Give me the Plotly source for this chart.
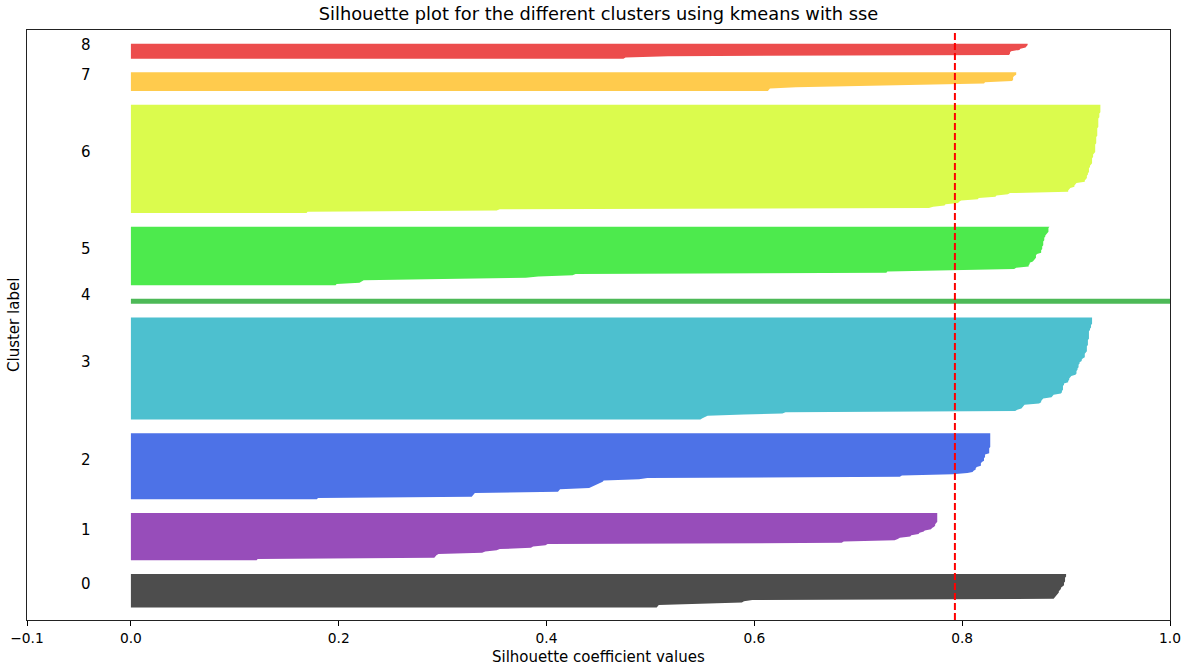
import plotly.graph_objects as go

# Silhouette coefficients per cluster, sorted ascending (one value per sample)
cluster_0 = [0.506, 0.507, 0.508, 0.548, 0.588, 0.590, 0.598, 0.888, 0.889, 0.890,
             0.891, 0.892, 0.893, 0.893, 0.894, 0.895, 0.895, 0.897, 0.898, 0.898,
             0.898, 0.899, 0.899, 0.899, 0.899, 0.900, 0.900, 0.900]
cluster_1 = [0.121, 0.122, 0.292, 0.293, 0.294, 0.296, 0.338, 0.341, 0.352, 0.355,
             0.385, 0.387, 0.399, 0.401, 0.684, 0.686, 0.735, 0.738, 0.740, 0.750,
             0.751, 0.758, 0.759, 0.763, 0.764, 0.770, 0.771, 0.773, 0.774, 0.774,
             0.775, 0.776, 0.776, 0.776, 0.776, 0.776, 0.776, 0.776, 0.776]
cluster_2 = [0.179, 0.180, 0.328, 0.329, 0.330, 0.331, 0.411, 0.412, 0.413, 0.441,
             0.444, 0.446, 0.449, 0.452, 0.454, 0.455, 0.489, 0.497, 0.740, 0.742,
             0.791, 0.805, 0.810, 0.811, 0.813, 0.813, 0.814, 0.818, 0.818, 0.818,
             0.819, 0.821, 0.821, 0.821, 0.822, 0.822, 0.822, 0.826, 0.826, 0.826,
             0.826, 0.826, 0.827, 0.827, 0.827, 0.827, 0.827, 0.827, 0.827, 0.827,
             0.827, 0.827, 0.827, 0.827]
cluster_3 = [0.548, 0.550, 0.553, 0.555, 0.590, 0.627, 0.630, 0.851, 0.853, 0.857,
             0.858, 0.859, 0.860, 0.874, 0.876, 0.876, 0.877, 0.878, 0.886, 0.887,
             0.888, 0.895, 0.896, 0.896, 0.897, 0.897, 0.897, 0.897, 0.898, 0.898,
             0.902, 0.902, 0.903, 0.903, 0.904, 0.905, 0.909, 0.910, 0.910, 0.910,
             0.911, 0.911, 0.912, 0.912, 0.912, 0.913, 0.913, 0.915, 0.915, 0.916,
             0.918, 0.918, 0.918, 0.918, 0.919, 0.920, 0.920, 0.920, 0.920, 0.920,
             0.921, 0.921, 0.921, 0.921, 0.921, 0.922, 0.922, 0.922, 0.922, 0.922,
             0.922, 0.922, 0.923, 0.923, 0.924, 0.924, 0.924, 0.925, 0.925, 0.925,
             0.925, 0.925, 0.925]
cluster_4 = [1.0, 1.0, 1.0, 1.0, 1.0]
cluster_5 = [0.197, 0.198, 0.220, 0.222, 0.224, 0.300, 0.380, 0.392, 0.425, 0.428,
             0.727, 0.728, 0.790, 0.850, 0.852, 0.864, 0.864, 0.865, 0.865, 0.868,
             0.869, 0.870, 0.871, 0.871, 0.871, 0.872, 0.876, 0.876, 0.876, 0.877,
             0.877, 0.877, 0.878, 0.878, 0.878, 0.878, 0.879, 0.879, 0.879, 0.880,
             0.880, 0.881, 0.882, 0.883, 0.883, 0.883, 0.883, 0.884]
cluster_6 = [0.169, 0.170, 0.352, 0.355, 0.768, 0.772, 0.783, 0.784, 0.796, 0.797,
             0.799, 0.815, 0.816, 0.832, 0.833, 0.844, 0.846, 0.902, 0.902, 0.903,
             0.904, 0.908, 0.908, 0.909, 0.910, 0.918, 0.918, 0.919, 0.920, 0.920,
             0.920, 0.921, 0.921, 0.922, 0.922, 0.922, 0.922, 0.923, 0.923, 0.924,
             0.925, 0.925, 0.925, 0.925, 0.925, 0.926, 0.926, 0.926, 0.927, 0.928,
             0.928, 0.928, 0.928, 0.928, 0.928, 0.928, 0.929, 0.929, 0.929, 0.929,
             0.929, 0.929, 0.930, 0.930, 0.930, 0.930, 0.930, 0.930, 0.930, 0.931,
             0.931, 0.931, 0.931, 0.931, 0.931, 0.931, 0.931, 0.932, 0.932, 0.932,
             0.932, 0.933, 0.933, 0.933, 0.933, 0.933, 0.933, 0.933]
cluster_7 = [0.613, 0.614, 0.615, 0.640, 0.700, 0.760, 0.821, 0.822, 0.848, 0.849,
             0.849, 0.849, 0.850, 0.852, 0.852, 0.852]
cluster_8 = [0.474, 0.476, 0.517, 0.845, 0.846, 0.846, 0.847, 0.855, 0.856, 0.861,
             0.862, 0.863, 0.863]

clusters = [cluster_0, cluster_1, cluster_2, cluster_3, cluster_4,
            cluster_5, cluster_6, cluster_7, cluster_8]
cluster_labels = ["0", "1", "2", "3", "4", "5", "6", "7", "8"]

# nipy_spectral colours blended at alpha 0.7 over white
cluster_colors = ["#4d4d4d", "#974dba", "#4d72e7", "#4dc0cf", "#4db957",
                  "#4dea4d", "#dbfb4d", "#ffcb4d", "#ec4d4d"]

silhouette_avg = 0.793
x_ticks = [-0.1, 0.0, 0.2, 0.4, 0.6, 0.8, 1.0]
gap = 10

FONT = "DejaVu Sans"

fig = go.Figure()
annotations = []

y_lower = gap
for label, values, color in zip(cluster_labels, clusters, cluster_colors):
    n = len(values)
    ys = list(range(y_lower, y_lower + n))
    xs = [0.0] + list(values) + [0.0]
    yy = [ys[0]] + ys + [ys[-1]]
    fig.add_trace(go.Scatter(
        x=xs, y=yy, mode="lines", fill="toself",
        fillcolor=color, line=dict(width=0, color=color),
        hoverinfo="skip", showlegend=False,
    ))
    annotations.append(dict(
        x=-0.05, y=y_lower + 0.5 * n, xref="x", yref="y",
        text=label, showarrow=False, xanchor="left", yanchor="middle",
        yshift=6, font=dict(family=FONT, size=15, color="black"),
    ))
    y_lower += n + gap

y_max = y_lower

# axis labels
annotations.append(dict(
    x=0.5, y=-0.0627, xref="paper", yref="paper", text="Silhouette coefficient values",
    showarrow=False, xanchor="center", yanchor="middle",
    font=dict(family=FONT, size=15, color="black"),
))
annotations.append(dict(
    x=-0.0114, y=0.5, xref="paper", yref="paper", text="Cluster label",
    showarrow=False, xanchor="center", yanchor="middle", textangle=-90,
    font=dict(family=FONT, size=15, color="black"),
))

fig.update_layout(
    width=1182, height=671,
    margin=dict(l=27, r=12, t=30, b=51, autoexpand=False),
    paper_bgcolor="white", plot_bgcolor="white",
    title=dict(
        text="Silhouette plot for the different clusters using kmeans with sse",
        x=0.5, xref="paper", y=1 - 14 / 671, yref="container",
        xanchor="center", yanchor="middle",
        font=dict(family=FONT, size=17.8, color="black"),
    ),
    annotations=annotations,
    shapes=[dict(
        type="line", xref="x", yref="paper",
        x0=silhouette_avg, x1=silhouette_avg, y0=0, y1=1,
        line=dict(color="red", width=2, dash="7px,3px"),
    )],
    showlegend=False,
)

fig.update_xaxes(
    range=[-0.1, 1.0], tickvals=x_ticks, tickformat=".1f",
    ticks="outside", ticklen=5, tickwidth=1, tickcolor="black",
    showline=True, linecolor="#222", linewidth=1, mirror=True,
    showgrid=False, zeroline=False, automargin=False,
    tickfont=dict(family=FONT, size=13.8, color="black"),
)
fig.update_yaxes(
    range=[0, y_max], showticklabels=False, ticks="",
    showline=True, linecolor="#222", linewidth=1, mirror=True,
    showgrid=False, zeroline=False, automargin=False,
)

fig.write_html("out.html")
